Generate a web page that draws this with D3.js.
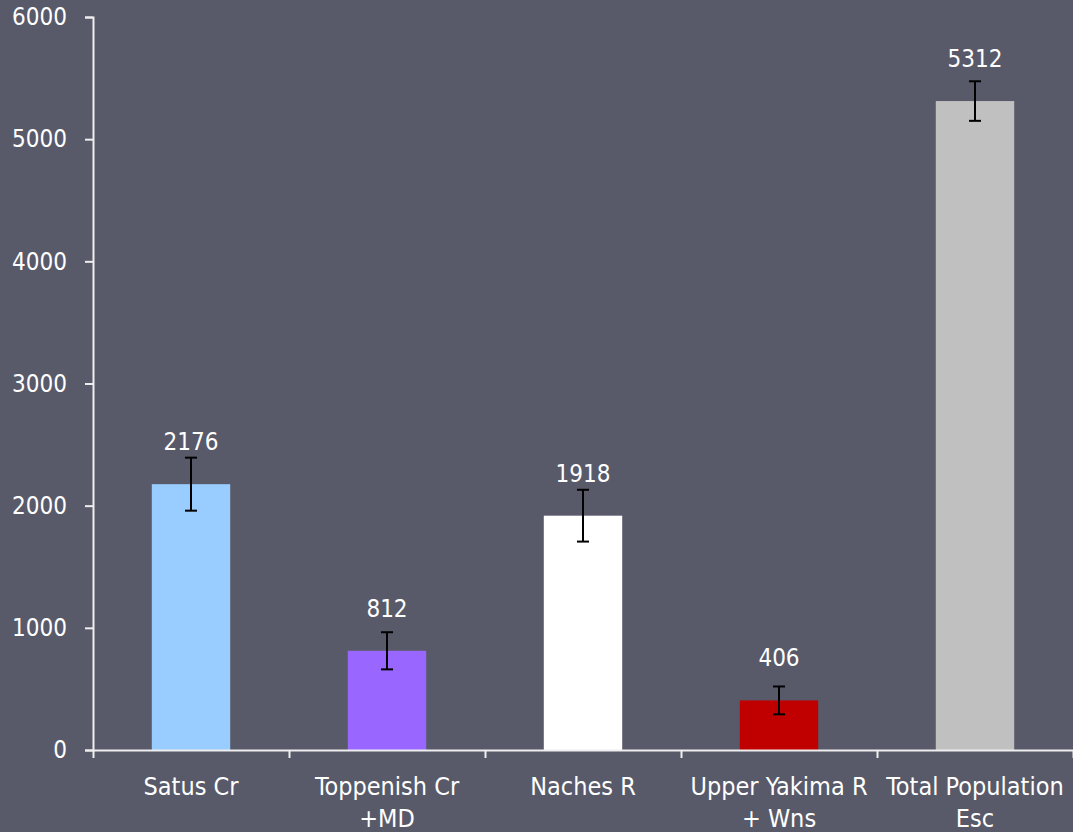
<html>
  <head>
    <meta content="text/html; charset=utf-8" http-equiv="Content-Type">
    <style>
    body { margin: 0; background-color: #585a6a; overflow: hidden; }
    svg text { font-family: 'DejaVu Sans Condensed', 'Open Sans', sans-serif; fill: #ffffff; }
    </style>
  </head>
  <body>
    <svg id="svg"></svg>

<script src="https://d3js.org/d3.v7.min.js"></script>
<script>

// chart data
const categories = [["Satus Cr"], ["Toppenish Cr", "+MD"], ["Naches R"], ["Upper Yakima R", "+ Wns"], ["Total Population", "Esc"]];
const values = [2176, 812, 1918, 406, 5312];
const errors = [217, 152, 212, 114, 162];
const barColors = ["#99ccff", "#9966ff", "#ffffff", "#c00000", "#c0c0c0"];
const yTicks = [0, 1000, 2000, 3000, 4000, 5000, 6000];

const marginLeft = 93;
const marginRight = 0;
const marginTop = 17;
const marginBottom = 82;
const width = 1073 - marginLeft - marginRight;
const height = 832 - marginTop - marginBottom;

const svg = d3.select("#svg")
    .attr("width", 1073)
    .attr("height", 832);

const xScale = d3.scaleBand()
    .domain(d3.range(categories.length))
    .range([0, width])
    .paddingInner(0.6)
    .paddingOuter(0.3);

const yScale = d3.scaleLinear()
    .domain([0, 6000])
    .range([height, 0]);

const chart = svg.append("g")
    .attr("transform", `translate(${marginLeft}, ${marginTop})`);

// y axis
const yAxis = chart.append("g")
    .call(d3.axisLeft(yScale).tickValues(yTicks).tickFormat(d3.format("d")).tickSize(8).tickPadding(18));
yAxis.selectAll("text").style("font-size", "24px");
yAxis.selectAll("line, path").attr("stroke", "#eeeeee").attr("stroke-width", 2);

// bars
chart.selectAll(".bar")
    .data(values)
    .enter().append("rect")
    .attr("class", "bar")
    .attr("x", (d, i) => xScale(i))
    .attr("y", d => yScale(d))
    .attr("width", xScale.bandwidth())
    .attr("height", d => height - yScale(d))
    .attr("fill", (d, i) => barColors[i]);

// error bars
const err = chart.selectAll(".err")
    .data(values)
    .enter().append("g")
    .attr("class", "err")
    .attr("stroke", "#000000")
    .attr("stroke-width", 2);

const cx = i => xScale(i) + xScale.bandwidth() / 2;

err.append("line")
    .attr("x1", (d, i) => cx(i)).attr("x2", (d, i) => cx(i))
    .attr("y1", (d, i) => yScale(d + errors[i]))
    .attr("y2", (d, i) => yScale(d - errors[i]));
err.append("line")
    .attr("x1", (d, i) => cx(i) - 6).attr("x2", (d, i) => cx(i) + 6)
    .attr("y1", (d, i) => yScale(d + errors[i]))
    .attr("y2", (d, i) => yScale(d + errors[i]));
err.append("line")
    .attr("x1", (d, i) => cx(i) - 6).attr("x2", (d, i) => cx(i) + 6)
    .attr("y1", (d, i) => yScale(d - errors[i]))
    .attr("y2", (d, i) => yScale(d - errors[i]));

// value labels
chart.selectAll(".val")
    .data(values)
    .enter().append("text")
    .attr("class", "val")
    .attr("x", (d, i) => cx(i))
    .attr("y", d => yScale(d) - 34)
    .attr("text-anchor", "middle")
    .style("font-size", "24px")
    .text(d => d);

// x axis: ticks on band edges
const edgeScale = d3.scaleLinear().domain([0, categories.length]).range([0, width]);
const xAxis = chart.append("g")
    .attr("transform", `translate(0, ${height})`)
    .call(d3.axisBottom(edgeScale).tickValues(d3.range(categories.length + 1)).tickFormat("").tickSize(8).tickSizeOuter(0));
xAxis.selectAll("line, path").attr("stroke", "#eeeeee").attr("stroke-width", 2);

// category labels
const catLabels = chart.selectAll(".cat")
    .data(categories)
    .enter().append("text")
    .attr("class", "cat")
    .attr("text-anchor", "middle")
    .style("font-size", "25px")
    .attr("transform", (d, i) => `translate(${cx(i)}, ${height + 45})`);

catLabels.selectAll("tspan")
    .data(d => d)
    .enter().append("tspan")
    .attr("x", 0)
    .attr("y", (d, j) => j * 32)
    .text(d => d);

</script>
</body>
</html>
